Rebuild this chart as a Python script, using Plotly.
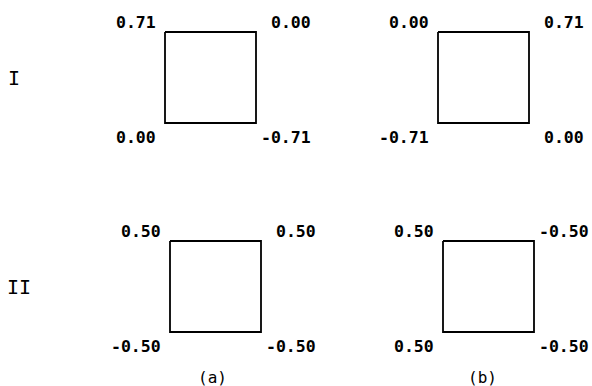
import plotly.graph_objects as go

# ---- data: corner values of each square (TL, TR, BL, BR) ----
rows = ["I", "II"]
cols = ["(a)", "(b)"]
top_left = [[0.71, 0.00], [0.50, 0.50]]
top_right = [[0.00, 0.71], [0.50, -0.50]]
bottom_left = [[0.00, -0.71], [-0.50, 0.50]]
bottom_right = [[-0.71, 0.00], [-0.50, -0.50]]

# ---- layout constants (pixel coordinates of the page) ----
W, H = 592, 386
sq_left = [[165, 438], [170, 443]]
sq_top = [32, 241]
sq_size = 91
row_label_x = [14, 19]
col_label_x = [212, 482]
col_label_y = 377

FONT = "DejaVu Sans Mono"
fig = go.Figure()
ann = []


def fmt(v):
    return f"{v:.2f}"


for r in range(2):
    for c in range(2):
        x0 = sq_left[r][c]
        y0 = sq_top[r]
        x1 = x0 + sq_size
        y1 = y0 + sq_size
        fig.add_trace(go.Scatter(
            x=[x0, x1, x1, x0, x0], y=[y0, y0, y1, y1, y0],
            mode="lines", line=dict(color="black", width=1.8),
            hoverinfo="skip", showlegend=False))
        corners = [
            (top_left[r][c], x0 - 7, y0 - 10),
            (top_right[r][c], x1 + 57, y0 - 10),
            (bottom_left[r][c], x0 - 7, y1 + 14),
            (bottom_right[r][c], x1 + 57, y1 + 14),
        ]
        for v, tx, ty in corners:
            ann.append(dict(x=tx, y=ty, xref="x", yref="y", text=fmt(v),
                            showarrow=False, xanchor="right", yanchor="middle",
                            font=dict(family=FONT, size=16.5, color="black",
                                      weight="bold")))
    ann.append(dict(x=row_label_x[r], y=sq_top[r] + sq_size / 2, xref="x", yref="y",
                    text=rows[r], showarrow=False, xanchor="center", yanchor="middle",
                    font=dict(family=FONT, size=20, color="black")))

for c in range(2):
    ann.append(dict(x=col_label_x[c], y=col_label_y, xref="x", yref="y",
                    text=cols[c], showarrow=False, xanchor="center", yanchor="middle",
                    font=dict(family=FONT, size=16, color="black")))

fig.update_layout(
    width=W, height=H, margin=dict(l=0, r=0, t=0, b=0),
    paper_bgcolor="white", plot_bgcolor="white",
    annotations=ann,
    xaxis=dict(range=[0, W], visible=False, fixedrange=True),
    yaxis=dict(range=[H, 0], visible=False, fixedrange=True),
)
fig.write_html(
    "out.html",
    config={"displayModeBar": False},
    post_script="document.body.style.margin='0';document.body.style.overflow='hidden';",
)
